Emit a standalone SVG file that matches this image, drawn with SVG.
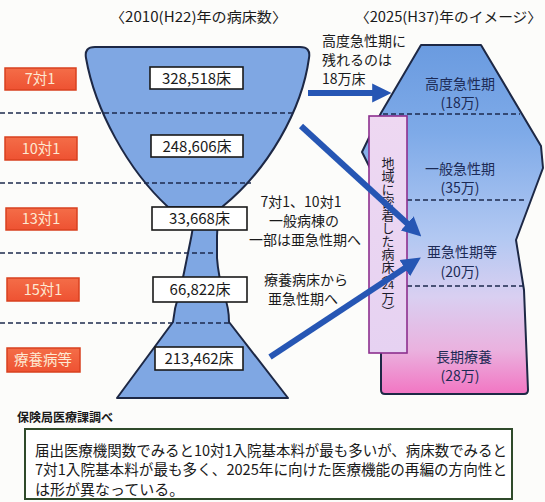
<svg xmlns="http://www.w3.org/2000/svg" width="545" height="502" viewBox="0 0 545 502">
<defs>
<style>
text{font-family:"Noto Sans CJK JP","Liberation Sans",sans-serif;fill:#1a1a1a}
.hdr{font-size:14px}
.cnt{font-size:15px;text-anchor:middle}
.ann{font-size:14px;text-anchor:middle}
.rl{font-size:14px;text-anchor:middle;fill:#1c2a55}
.lbl{font-size:14.5px;text-anchor:middle;fill:#fde9d2}
.cbox{fill:#fff;stroke:#1a1a1a;stroke-width:1.6}
.rbox{fill:url(#red);stroke:#d8401f;stroke-width:1.5}
.dash{stroke:#1d2a4e;stroke-width:1.6;stroke-dasharray:5 3;fill:none}
.shape{fill:#7fa7e3;stroke:#1d2845;stroke-width:2;stroke-linejoin:round}
.arr{stroke:#2656b4;stroke-width:6;fill:none}
.vt{font-size:13px;writing-mode:vertical-rl;fill:#1c1c2c}
.foot{font-size:15px}
</style>
<linearGradient id="red" x1="0" y1="0" x2="0" y2="1">
<stop offset="0" stop-color="#f46d48"/><stop offset="1" stop-color="#ee5232"/>
</linearGradient>
<linearGradient id="rg" gradientUnits="userSpaceOnUse" x1="0" y1="45" x2="0" y2="395">
<stop offset="0" stop-color="#6a9be0"/>
<stop offset="0.25" stop-color="#7eaae8"/>
<stop offset="0.55" stop-color="#b2c8f2"/>
<stop offset="0.72" stop-color="#d9cff1"/>
<stop offset="0.87" stop-color="#eab2df"/>
<stop offset="1" stop-color="#f274c2"/>
</linearGradient>
<linearGradient id="pg" x1="0" y1="0" x2="0" y2="1">
<stop offset="0" stop-color="#eed8f2"/><stop offset="1" stop-color="#e6d2f2"/>
</linearGradient>
<marker id="ah" viewBox="0 0 10 10" refX="2" refY="5" markerWidth="3.2" markerHeight="3.4" orient="auto" markerUnits="strokeWidth">
<path d="M0,0 L10,5 L0,10 Z" fill="#2656b4"/>
</marker>
</defs>
<rect width="545" height="502" fill="#fcfcfa"/>

<g id="headers">
<text class="hdr" x="110" y="22" textLength="177" lengthAdjust="spacingAndGlyphs">〈2010(H22)年の病床数〉</text>
<text class="hdr" x="355" y="22" textLength="187" lengthAdjust="spacingAndGlyphs">〈2025(H37)年のイメージ〉</text>
</g>

<g id="left-shape">
<path class="shape" d="M95,47 L300,47 Q311,47 309,58 C302,110 268,170 222,207 L168,207 C128,170 95,110 86,58 Q84,47 95,47 Z"/>
<path class="shape" d="M172,207 L222,207 C219,218 217,226 217,236 L217,258 C218,272 221,285 224,295 C228,305 229,314 229,322 L288,398 L117,398 L173,322 C174,312 176,303 179,294 C183,280 186,262 189,248 C191,238 193,230 193,224 C188,215 180,210 172,207 Z"/>
</g>

<g id="dashes-left">
<line class="dash" x1="0" y1="113" x2="293" y2="113"/>
<line class="dash" x1="0" y1="183" x2="251" y2="183"/>
<line class="dash" x1="0" y1="253" x2="217" y2="253"/>
<line class="dash" x1="0" y1="323" x2="229" y2="323"/>
</g>

<g id="right-shape">
<path d="M421,45 L481,45 L541,146 L543,168 L516,240 L524,290 L528,390 Q528,394 524,394 L385,394 Q381,394 381,390 L381,190 L362,152 L381,113 Z" fill="url(#rg)" stroke="#1d2845" stroke-width="2" stroke-linejoin="round"/>
<line class="dash" x1="383" y1="114" x2="520" y2="114"/>
<line class="dash" x1="407" y1="200" x2="526" y2="200"/>
<line class="dash" x1="407" y1="286" x2="527" y2="286"/>
<text class="rl" x="460" y="89">高度急性期</text>
<text class="rl" x="460" y="108">(18万)</text>
<text class="rl" x="460" y="174">一般急性期</text>
<text class="rl" x="460" y="193">(35万)</text>
<text class="rl" x="462" y="257">亜急性期等</text>
<text class="rl" x="460" y="277">(20万)</text>
<text class="rl" x="464" y="362">長期療養</text>
<text class="rl" x="460" y="381">(28万)</text>
</g>

<g id="local-beds">
<rect x="369" y="116" width="38" height="237" fill="url(#pg)" stroke="#8c2f8e" stroke-width="1.6"/>
<text class="vt" x="388" y="157">地域に密着した病床</text>
<text class="vt" x="388" y="267">（</text>
<text x="388" y="289" font-size="11" text-anchor="middle" fill="#1c1c2c">24</text>
<text class="vt" x="388" y="292">万）</text>
</g>

<g id="labels">
<g id="l7"><rect class="rbox" x="5" y="68" width="71" height="22"/><text class="lbl" x="40" y="84">7対1</text></g>
<g id="l10"><rect class="rbox" x="5" y="137" width="72" height="23"/><text class="lbl" x="41" y="154">10対1</text></g>
<g id="l13"><rect class="rbox" x="6" y="208" width="71" height="22"/><text class="lbl" x="41" y="224">13対1</text></g>
<g id="l15"><rect class="rbox" x="7" y="278" width="72" height="23"/><text class="lbl" x="43" y="295">15対1</text></g>
<g id="lry"><rect class="rbox" x="7" y="348" width="73" height="24"/><text class="lbl" x="43" y="365">療養病等</text></g>
</g>

<g id="counts">
<g id="c1"><rect class="cbox" x="150" y="67" width="93" height="22"/><text class="cnt" x="196.5" y="83.5">328,518床</text></g>
<g id="c2"><rect class="cbox" x="151" y="135" width="92" height="22"/><text class="cnt" x="197" y="151.5">248,606床</text></g>
<g id="c3"><rect class="cbox" x="152" y="207" width="95" height="23"/><text class="cnt" x="199.5" y="224">33,668床</text></g>
<g id="c4"><rect class="cbox" x="153" y="277" width="94" height="25"/><text class="cnt" x="200" y="295">66,822床</text></g>
<g id="c5"><rect class="cbox" x="155" y="347" width="88" height="23"/><text class="cnt" x="199" y="364">213,462床</text></g>
</g>

<g id="connectors">
<line class="arr" x1="308" y1="93" x2="376" y2="93" marker-end="url(#ah)"/>
<line class="arr" x1="301" y1="126" x2="410" y2="226" marker-end="url(#ah)"/>
<line class="arr" x1="270" y1="357" x2="408" y2="266" marker-end="url(#ah)"/>
</g>

<g id="annotations">
<text font-size="14" x="322" y="46">高度急性期に</text>
<text font-size="14" x="322" y="65">残れるのは</text>
<text font-size="14" x="322" y="84">18万床</text>
<text class="ann" x="301" y="207">7対1、10対1</text>
<text class="ann" x="304" y="226">一般病棟の</text>
<text class="ann" x="305" y="245">一部は亜急性期へ</text>
<text class="ann" x="306" y="285">療養病床から</text>
<text class="ann" x="303" y="304">亜急性期へ</text>
</g>

<g id="footer">
<text x="17" y="422" font-size="12" font-weight="bold" fill="#333">保険局医療課調べ</text>
<rect x="25" y="429" width="487" height="70" fill="#fff" stroke="#2f4a2a" stroke-width="2"/>
<text class="foot" x="35" y="455.5" textLength="472" lengthAdjust="spacingAndGlyphs">届出医療機関数でみると10対1入院基本料が最も多いが、病床数でみると</text>
<text class="foot" x="35" y="475" textLength="472" lengthAdjust="spacingAndGlyphs">7対1入院基本料が最も多く、2025年に向けた医療機能の再編の方向性と</text>
<text class="foot" x="35" y="494.5">は形が異なっている。</text>
</g>
</svg>
